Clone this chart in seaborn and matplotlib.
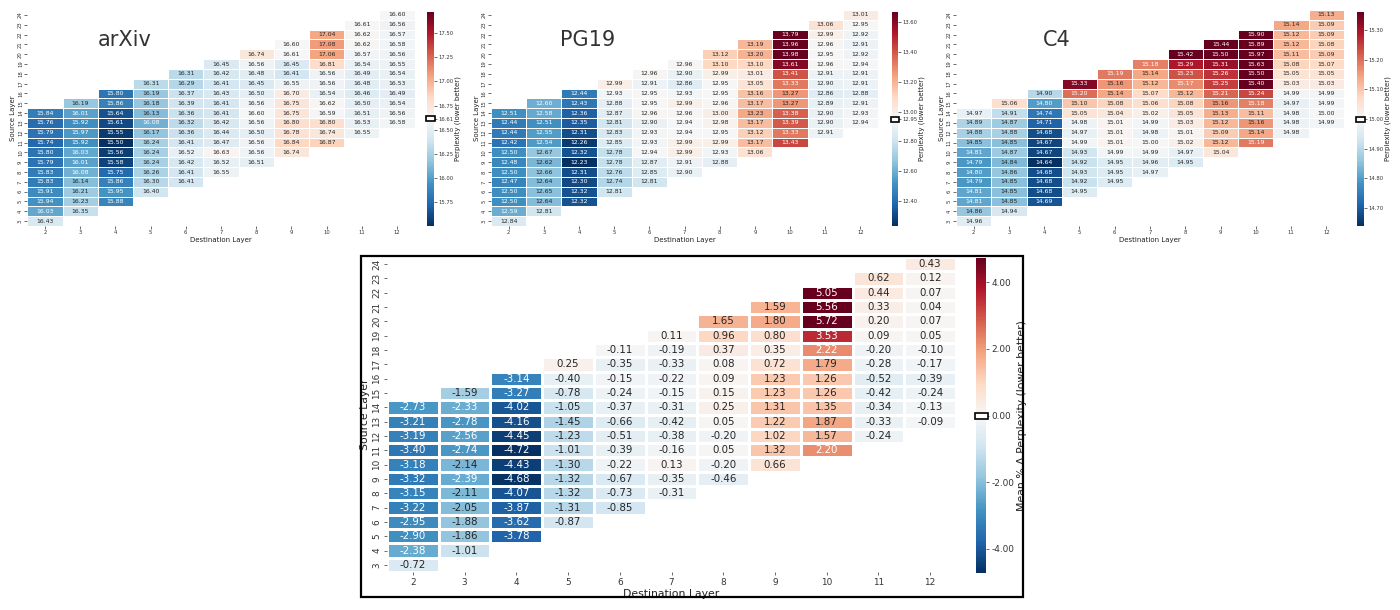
import numpy as np
import pandas as pd
import matplotlib
matplotlib.use("Agg")
import matplotlib.pyplot as plt
from matplotlib.patches import Rectangle
from matplotlib.ticker import FormatStrFormatter
import seaborn as sns

# ---------------- data ----------------
dest_layers = list(range(2, 13))          # columns (destination layer)
source_layers = list(range(24, 2, -1))    # rows, top to bottom (source layer)
# each inner list: values for one destination layer d, from source d+12 (top) down to d+1

arxiv_cols = [
    [15.84, 15.76, 15.79, 15.74, 15.80, 15.79, 15.83, 15.83, 15.91, 15.94, 16.03, 16.43],
    [16.19, 16.01, 15.92, 15.97, 15.92, 16.03, 16.01, 16.08, 16.14, 16.21, 16.23, 16.35],
    [15.80, 15.86, 15.64, 15.61, 15.55, 15.50, 15.56, 15.58, 15.75, 15.86, 15.95, 15.88],
    [16.31, 16.19, 16.18, 16.13, 16.08, 16.17, 16.24, 16.24, 16.24, 16.26, 16.30, 16.40],
    [16.31, 16.29, 16.37, 16.39, 16.36, 16.32, 16.36, 16.41, 16.52, 16.42, 16.41, 16.41],
    [16.45, 16.42, 16.41, 16.43, 16.41, 16.41, 16.42, 16.44, 16.47, 16.63, 16.52, 16.55],
    [16.74, 16.56, 16.48, 16.45, 16.50, 16.56, 16.60, 16.56, 16.50, 16.56, 16.56, 16.51],
    [16.60, 16.61, 16.45, 16.41, 16.55, 16.70, 16.75, 16.75, 16.80, 16.78, 16.84, 16.74],
    [17.04, 17.08, 17.06, 16.81, 16.56, 16.56, 16.54, 16.62, 16.59, 16.80, 16.74, 16.87],
    [16.61, 16.62, 16.62, 16.57, 16.54, 16.49, 16.48, 16.46, 16.50, 16.51, 16.53, 16.55],
    [16.60, 16.56, 16.57, 16.58, 16.56, 16.55, 16.54, 16.53, 16.49, 16.54, 16.56, 16.58],
]

pg19_cols = [
    [12.51, 12.44, 12.44, 12.42, 12.50, 12.48, 12.50, 12.47, 12.50, 12.50, 12.59, 12.84],
    [12.60, 12.58, 12.51, 12.55, 12.54, 12.67, 12.62, 12.66, 12.64, 12.65, 12.64, 12.81],
    [12.44, 12.43, 12.36, 12.35, 12.31, 12.26, 12.32, 12.23, 12.31, 12.30, 12.32, 12.32],
    [12.99, 12.93, 12.88, 12.87, 12.81, 12.83, 12.85, 12.78, 12.78, 12.76, 12.74, 12.81],
    [12.96, 12.91, 12.95, 12.95, 12.96, 12.90, 12.93, 12.93, 12.94, 12.87, 12.85, 12.81],
    [12.96, 12.90, 12.86, 12.93, 12.99, 12.96, 12.94, 12.94, 12.99, 12.99, 12.91, 12.90],
    [13.12, 13.10, 12.99, 12.95, 12.95, 12.96, 13.00, 12.98, 12.95, 12.99, 12.93, 12.88],
    [13.19, 13.20, 13.10, 13.01, 13.05, 13.16, 13.17, 13.23, 13.17, 13.12, 13.17, 13.06],
    [13.79, 13.96, 13.98, 13.61, 13.41, 13.33, 13.27, 13.27, 13.38, 13.39, 13.33, 13.43],
    [13.06, 12.99, 12.96, 12.95, 12.96, 12.91, 12.90, 12.86, 12.89, 12.90, 12.90, 12.91],
    [13.01, 12.95, 12.92, 12.91, 12.92, 12.94, 12.91, 12.91, 12.88, 12.91, 12.93, 12.94],
]

c4_cols = [
    [14.97, 14.89, 14.88, 14.85, 14.81, 14.79, 14.80, 14.79, 14.81, 14.81, 14.86, 14.96],
    [15.06, 14.91, 14.87, 14.88, 14.85, 14.87, 14.84, 14.86, 14.85, 14.85, 14.85, 14.94],
    [14.90, 14.80, 14.74, 14.71, 14.68, 14.67, 14.67, 14.64, 14.68, 14.68, 14.68, 14.69],
    [15.33, 15.20, 15.10, 15.05, 14.98, 14.97, 14.99, 14.93, 14.92, 14.93, 14.92, 14.95],
    [15.19, 15.16, 15.14, 15.08, 15.04, 15.01, 15.01, 15.01, 14.99, 14.95, 14.95, 14.95],
    [15.18, 15.14, 15.12, 15.07, 15.06, 15.02, 14.99, 14.98, 15.00, 14.99, 14.96, 14.97],
    [15.42, 15.29, 15.23, 15.17, 15.12, 15.08, 15.05, 15.03, 15.01, 15.02, 14.97, 14.95],
    [15.44, 15.50, 15.31, 15.26, 15.25, 15.21, 15.16, 15.13, 15.12, 15.09, 15.12, 15.04],
    [15.90, 15.89, 15.97, 15.63, 15.50, 15.40, 15.24, 15.18, 15.11, 15.16, 15.14, 15.19],
    [15.14, 15.12, 15.12, 15.11, 15.08, 15.05, 15.03, 14.99, 14.97, 14.98, 14.98, 14.98],
    [15.13, 15.09, 15.09, 15.08, 15.09, 15.07, 15.05, 15.03, 14.99, 14.99, 15.00, 14.99],
]

mean_delta_cols = [
    [-2.73, -3.21, -3.19, -3.40, -3.18, -3.32, -3.15, -3.22, -2.95, -2.90, -2.38, -0.72],
    [-1.59, -2.33, -2.78, -2.56, -2.74, -2.14, -2.39, -2.11, -2.05, -1.88, -1.86, -1.01],
    [-3.14, -3.27, -4.02, -4.16, -4.45, -4.72, -4.43, -4.68, -4.07, -3.87, -3.62, -3.78],
    [0.25, -0.40, -0.78, -1.05, -1.45, -1.23, -1.01, -1.30, -1.32, -1.32, -1.31, -0.87],
    [-0.11, -0.35, -0.15, -0.24, -0.37, -0.66, -0.51, -0.39, -0.22, -0.67, -0.73, -0.85],
    [0.11, -0.19, -0.33, -0.22, -0.15, -0.31, -0.42, -0.38, -0.16, 0.13, -0.35, -0.31],
    [1.65, 0.96, 0.37, 0.08, 0.09, 0.15, 0.25, 0.05, -0.20, 0.05, -0.20, -0.46],
    [1.59, 1.80, 0.80, 0.35, 0.72, 1.23, 1.23, 1.31, 1.22, 1.02, 1.32, 0.66],
    [5.05, 5.56, 5.72, 3.53, 2.22, 1.79, 1.26, 1.26, 1.35, 1.87, 1.57, 2.20],
    [0.62, 0.44, 0.33, 0.20, 0.09, -0.20, -0.28, -0.52, -0.42, -0.34, -0.33, -0.24],
    [0.43, 0.12, 0.07, 0.04, 0.07, 0.05, -0.10, -0.17, -0.39, -0.24, -0.13, -0.09],
]

titles = ["arXiv", "PG19", "C4"]
centers = [16.61, 12.95, 15.00]          # baseline perplexity (colorbar centre)
lows = [15.50, 12.23, 14.64]             # colour range lower limits
delta_center = 0.00
delta_low = -4.72

arxiv_ticks = [15.75, 16.00, 16.25, 16.50, 16.75, 17.00, 17.25, 17.50]
pg19_ticks = [12.40, 12.60, 12.80, 13.00, 13.20, 13.40, 13.60]
c4_ticks = [14.70, 14.80, 14.90, 15.00, 15.10, 15.20, 15.30]
delta_ticks = [-4.00, -2.00, 0.00, 2.00, 4.00]


def build_frame(cols):
    df = pd.DataFrame(np.nan, index=source_layers, columns=dest_layers)
    for d, col in zip(dest_layers, cols):
        for i, v in enumerate(col):
            df.loc[d + 12 - i, d] = v
    return df


W, H = 1400, 610
fig = plt.figure(figsize=(W / 100, H / 100), dpi=100)
fig.patch.set_facecolor("white")


def px_axes(x0, y0, x1, y1):
    return fig.add_axes([x0 / W, 1 - y1 / H, (x1 - x0) / W, (y1 - y0) / H])


def draw(ax, cax, cols, center, low, ticks, annot_size, tick_size, lab_size,
         cbar_label, marker_px, lw, pad, cpad):
    df = build_frame(cols)
    r = center - low
    vmin, vmax = center - r, center + r
    sns.heatmap(df, ax=ax, cbar_ax=cax, cmap="RdBu_r", center=center,
                vmin=vmin, vmax=vmax, annot=True, fmt=".2f",
                annot_kws={"size": annot_size}, linewidths=lw,
                linecolor="white", xticklabels=True, yticklabels=True)
    ax.set_xlabel("Destination Layer", fontsize=lab_size, color="#222222",
                  labelpad=pad)
    ax.set_ylabel("Source Layer", fontsize=lab_size, color="#222222",
                  labelpad=pad)
    ax.set_xticks(np.arange(len(dest_layers)) + 0.5)
    ax.set_xticklabels([str(d) for d in dest_layers], rotation=0)
    ax.set_yticks(np.arange(len(source_layers)) + 0.5)
    ax.set_yticklabels([str(s) for s in source_layers], rotation=90,
                       va="center", ha="right")
    ax.tick_params(axis="both", labelsize=tick_size, length=2, width=0.5,
                   colors="#333333", pad=pad)
    allticks = sorted(set(list(ticks) + [center]))
    cax.set_yticks(allticks)
    cax.yaxis.set_major_formatter(FormatStrFormatter("%.2f"))
    cax.tick_params(labelsize=tick_size, length=2, width=0.5, colors="#333333",
                    pad=pad)
    cax.set_ylabel(cbar_label, fontsize=lab_size, color="#222222",
                   labelpad=cpad)
    cax_h = cax.get_position().height * H
    h = 2 * r * marker_px / cax_h
    cax.add_patch(Rectangle((-0.15, center - h / 2), 1.3, h,
                            transform=cax.get_yaxis_transform(),
                            facecolor="white", edgecolor="black", lw=1.2,
                            clip_on=False, zorder=5))


# top row positions (pixels)
top_axes = [(27.4, 10, 414.6, 226), (491, 10, 878, 226), (956, 10, 1344, 226)]
top_caxes = [(427, 12, 434, 226), (892, 12, 898, 226), (1357, 12, 1364, 226)]
top_cols = [arxiv_cols, pg19_cols, c4_cols]
top_ticks = [arxiv_ticks, pg19_ticks, c4_ticks]
title_x = [0.25, 0.25, 0.26]

for k in range(3):
    ax = px_axes(*top_axes[k])
    cax = px_axes(*top_caxes[k])
    draw(ax, cax, top_cols[k], centers[k], lows[k], top_ticks[k],
         annot_size=4.4, tick_size=3.8, lab_size=5.0,
         cbar_label="Perplexity (lower better)", marker_px=5, lw=0.6,
         pad=1.2, cpad=1.0)
    ax.text(title_x[k], 0.86, titles[k], transform=ax.transAxes,
            ha="center", va="center", fontsize=15, color="#333333")

# bottom panel
axb = px_axes(387, 257, 956, 572)
caxb = px_axes(976, 258, 986, 573)
draw(axb, caxb, mean_delta_cols, delta_center, delta_low, delta_ticks,
     annot_size=7.4, tick_size=6.4, lab_size=7.8,
     cbar_label="Mean % \u0394 Perplexity (lower better)", marker_px=6, lw=0.9,
     pad=2.0, cpad=1.5)

fig.add_artist(Rectangle((361 / W, 1 - 597 / H), (1023 - 361) / W, (597 - 256) / H,
                         transform=fig.transFigure, fill=False,
                         edgecolor="black", lw=1.6))

fig.savefig("out.png", dpi=100, facecolor="white")
